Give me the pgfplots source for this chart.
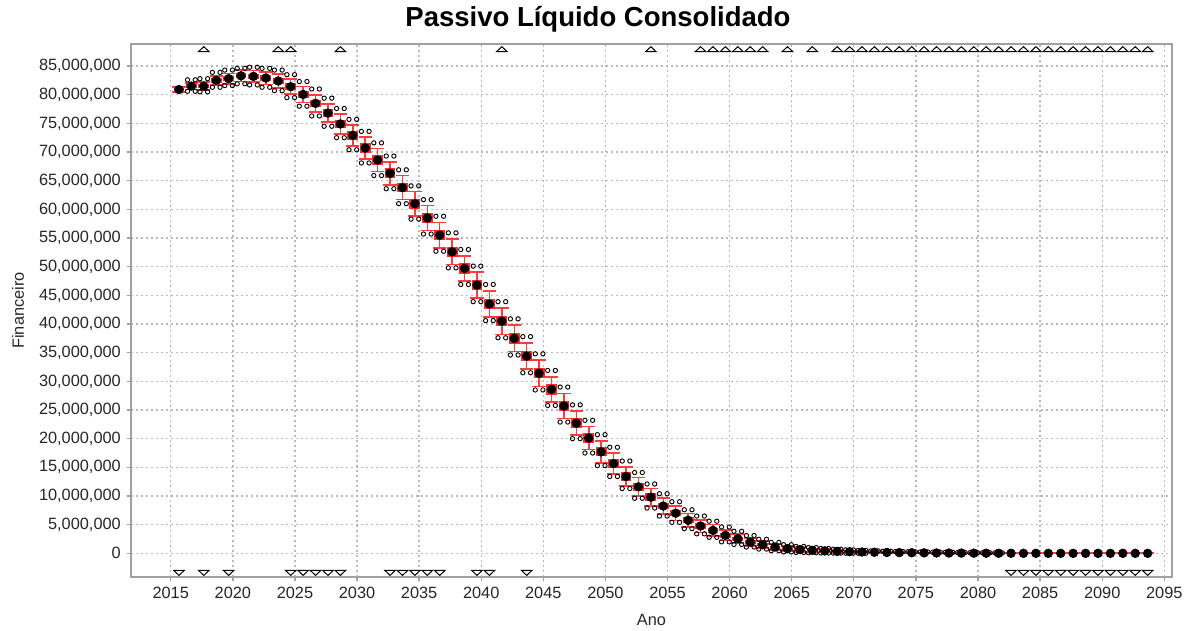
\documentclass[border=0pt]{standalone}
\usepackage{fontspec}
\setmainfont{Liberation Sans}
\usepackage{pgfplots}
\pgfplotsset{compat=1.18}
\usepackage{pgfplotstable}

% x = position of the box, m = mean/median, w = whisker half length,
% q = box half height, lo/hi = outliers (values in millions)
\pgfplotstableread{
x m w q lo hi
2015.66 80.9 0.4 0.3 nan nan
2016.66 81.5 0.6 0.35 80.6 82.6
2017.66 81.5 0.7 0.4 80.5 82.8
2018.66 82.5 0.8 0.4 81.3 83.9
2019.66 82.8 0.9 0.45 81.6 84.3
2020.66 83.3 1.0 0.45 81.9 84.6
2021.66 83.2 1.0 0.5 81.7 84.8
2022.66 82.9 1.1 0.5 81.3 84.6
2023.66 82.4 1.2 0.6 80.7 84.3
2024.66 81.4 1.3 0.6 79.5 83.5
2025.66 80.05 1.4 0.65 78.0 82.3
2026.66 78.5 1.5 0.65 76.3 81.0
2027.66 76.8 1.6 0.7 74.5 79.4
2028.66 74.9 1.7 0.7 72.5 77.6
2029.66 72.9 1.8 0.8 70.4 75.7
2030.66 70.7 1.9 0.8 68.1 73.6
2031.66 68.6 2.0 0.8 65.9 71.6
2032.66 66.3 2.0 0.85 63.6 69.3
2033.66 63.8 2.1 0.85 61.0 66.9
2034.66 61.0 2.1 0.85 58.3 64.1
2035.66 58.5 2.2 0.9 55.7 61.7
2036.66 55.5 2.2 0.9 52.7 58.8
2037.66 52.6 2.2 0.9 49.8 55.9
2038.66 49.7 2.2 0.9 46.9 53.0
2039.66 46.8 2.3 0.9 43.9 50.1
2040.66 43.5 2.3 0.9 40.6 46.9
2041.66 40.5 2.3 0.9 37.6 43.9
2042.66 37.5 2.3 0.9 34.6 40.9
2043.66 34.4 2.3 0.9 31.5 37.8
2044.66 31.4 2.3 0.9 28.5 34.8
2045.66 28.6 2.2 0.9 25.8 31.9
2046.66 25.7 2.2 0.9 22.9 29.0
2047.66 22.7 2.1 0.85 20.0 25.9
2048.66 20.1 2.0 0.85 17.5 23.2
2049.66 17.7 1.9 0.8 15.3 20.7
2050.66 15.65 1.8 0.8 13.4 18.5
2051.66 13.4 1.7 0.7 11.3 16.1
2052.66 11.6 1.6 0.65 9.6 14.1
2053.66 9.8 1.5 0.65 7.9 12.1
2054.66 8.25 1.4 0.6 6.5 10.4
2055.66 7.0 1.3 0.5 5.4 9.0
2056.66 5.76 1.2 0.5 4.3 7.6
2057.66 4.76 1.1 0.45 3.4 6.5
2058.66 4.0 1.0 0.4 2.8 5.6
2059.66 3.14 0.9 0.4 2.0 4.6
2060.66 2.56 0.8 0.35 1.55 3.85
2061.66 1.97 0.7 0.3 1.1 3.1
2062.66 1.5 0.6 0.25 0.75 2.45
2063.66 1.1 0.5 0.25 0.45 1.9
2064.66 0.82 0.45 0.2 0.25 1.5
2065.66 0.65 0.4 0.2 0.15 1.2
2066.66 0.52 0.35 0.15 0.1 1.0
2067.66 0.42 0.3 0.13 0.06 0.85
2068.66 0.34 0.26 0.12 0.04 0.72
2069.66 0.28 0.22 0.1 0.03 0.6
2070.66 0.23 0.19 0.09 0.02 0.5
2071.66 0.19 0.16 0.08 nan 0.42
2072.66 0.15 0.14 0.07 nan 0.36
2073.66 0.12 0.12 0.05 nan 0.3
2074.66 0.1 0.1 0.05 nan 0.26
2075.66 0.08 0.08 0.04 nan 0.22
2076.66 0.065 0.065 0.03 nan 0.19
2077.66 0.05 0.05 0.02 nan 0.16
2078.66 0.04 0.04 0.02 nan 0.13
2079.66 0.03 0.03 0.015 nan 0.11
2080.66 0.02 0.02 0.01 nan 0.09
2081.66 0.015 0.015 0.01 nan 0.07
2082.66 0.01 0.01 0.005 nan nan
2083.66 0.005 0.005 0.005 nan nan
2084.66 0 0 0 nan nan
2085.66 0 0 0 nan nan
2086.66 0 0 0 nan nan
2087.66 0 0 0 nan nan
2088.66 0 0 0 nan nan
2089.66 0 0 0 nan nan
2090.66 0 0 0 nan nan
2091.66 0 0 0 nan nan
2092.66 0 0 0 nan nan
2093.66 0 0 0 nan nan
}\boxdata

% far outliers above the range (drawn at the top edge)
\pgfplotstableread{
x y
2017.66 87.8
2023.66 87.8
2024.66 87.8
2028.66 87.8
2041.66 87.8
2053.66 87.8
2057.66 87.8
2058.66 87.8
2059.66 87.8
2060.66 87.8
2061.66 87.8
2062.66 87.8
2064.66 87.8
2066.66 87.8
2068.66 87.8
2069.66 87.8
2070.66 87.8
2071.66 87.8
2072.66 87.8
2073.66 87.8
2074.66 87.8
2075.66 87.8
2076.66 87.8
2077.66 87.8
2078.66 87.8
2079.66 87.8
2080.66 87.8
2081.66 87.8
2082.66 87.8
2083.66 87.8
2084.66 87.8
2085.66 87.8
2086.66 87.8
2087.66 87.8
2088.66 87.8
2089.66 87.8
2090.66 87.8
2091.66 87.8
2092.66 87.8
2093.66 87.8
}\topfar

% far outliers below the range (drawn at the bottom edge)
\pgfplotstableread{
x y
2015.66 -3.26
2017.66 -3.26
2019.66 -3.26
2024.66 -3.26
2025.66 -3.26
2026.66 -3.26
2027.66 -3.26
2028.66 -3.26
2032.66 -3.26
2033.66 -3.26
2034.66 -3.26
2035.66 -3.26
2036.66 -3.26
2039.66 -3.26
2040.66 -3.26
2043.66 -3.26
2082.66 -3.26
2083.66 -3.26
2084.66 -3.26
2085.66 -3.26
2086.66 -3.26
2087.66 -3.26
2088.66 -3.26
2089.66 -3.26
2090.66 -3.26
2091.66 -3.26
2092.66 -3.26
2093.66 -3.26
}\botfar

\definecolor{axgray}{RGB}{160,160,160}
\definecolor{gridgray}{RGB}{185,185,185}
\definecolor{boxred}{RGB}{255,40,40}
\definecolor{whiskred}{RGB}{255,60,60}

\begin{document}
\begin{tikzpicture}
\path[use as bounding box] (0,0) rectangle (717.6pt,378pt);
\begin{axis}[
  at={(78.6pt,31.8pt)}, anchor=south west,
  scale only axis, width=624.6pt, height=319.8pt,
  xmin=2011.8, xmax=2095.62, ymin=-4.13, ymax=88.85,
  axis line style={axgray, line width=1.2pt},
  tick style={axgray, line width=0.8pt},
  major tick length=2.6pt, tick align=outside,
  xtick pos=lower, ytick pos=left,
  grid=major,
  major grid style={gridgray, line width=0.8pt, dash pattern=on 1.2pt off 1.8pt},
  xtick={2015,2020,...,2095},
  xticklabels={2015,2020,2025,2030,2035,2040,2045,2050,2055,2060,2065,2070,2075,2080,2085,2090,2095},
  ytick={0,5,...,85},
  yticklabels={0,{5,000,000},{10,000,000},{15,000,000},{20,000,000},{25,000,000},{30,000,000},{35,000,000},{40,000,000},{45,000,000},{50,000,000},{55,000,000},{60,000,000},{65,000,000},{70,000,000},{75,000,000},{80,000,000},{85,000,000}},
  ticklabel style={font=\fontsize{9.8}{11}\selectfont, text=black!85},
  xlabel={Ano}, ylabel={Financeiro},
  label style={font=\fontsize{9.8}{11}\selectfont, text=black!85},
  xlabel style={at={(axis description cs:0.5,0)}, anchor=center, yshift=-25.8pt},
  ylabel style={at={(axis description cs:0,0.5)}, anchor=center, yshift=67.8pt},
  title={Passivo Líquido Consolidado},
  title style={at={(axis description cs:0.5,1)}, anchor=center, xshift=-32.1pt, yshift=9pt, font=\bfseries\fontsize{16.5}{18}\selectfont},
  clip=false,
]
% whiskers with caps
\addplot[only marks, mark=none,
  error bars/.cd, y dir=both, y explicit, error mark=|,
  error bar style={draw=whiskred, solid, line width=0.9pt},
  error mark options={draw=whiskred, solid, mark size=4pt, line width=1pt}]
  table[x=x, y=m, y error=w] {\boxdata};
% boxes (interquartile range)
\addplot[only marks, mark=none,
  error bars/.cd, y dir=both, y explicit, error mark=none,
  error bar style={draw=boxred, solid, line width=6.5pt}]
  table[x=x, y=m, y error=q] {\boxdata};
% mean markers
\addplot[only marks, mark=*, mark size=2.6pt, black]
  table[x=x, y=m] {\boxdata};
% outliers
\addplot[only marks, mark=o, mark size=1.3pt, black, mark options={line width=0.55pt, xshift=-2.3pt}]
  table[x=x, y=lo] {\boxdata};
\addplot[only marks, mark=o, mark size=1.3pt, black, mark options={line width=0.55pt, xshift=2.3pt}]
  table[x=x, y=lo] {\boxdata};
\addplot[only marks, mark=o, mark size=1.3pt, black, mark options={line width=0.55pt, xshift=-2.3pt}]
  table[x=x, y=hi] {\boxdata};
\addplot[only marks, mark=o, mark size=1.3pt, black, mark options={line width=0.55pt, xshift=2.3pt}]
  table[x=x, y=hi] {\boxdata};
% far outliers
\addplot[only marks, mark=triangle*, mark size=3.7pt,
  mark options={draw=black, fill=white, line width=0.6pt, yscale=0.55}]
  table[x=x, y=y] {\topfar};
\addplot[only marks, mark=triangle*, mark size=3.7pt,
  mark options={draw=black, fill=white, line width=0.6pt, yscale=0.55, rotate=180}]
  table[x=x, y=y] {\botfar};
\end{axis}
\end{tikzpicture}
\end{document}
